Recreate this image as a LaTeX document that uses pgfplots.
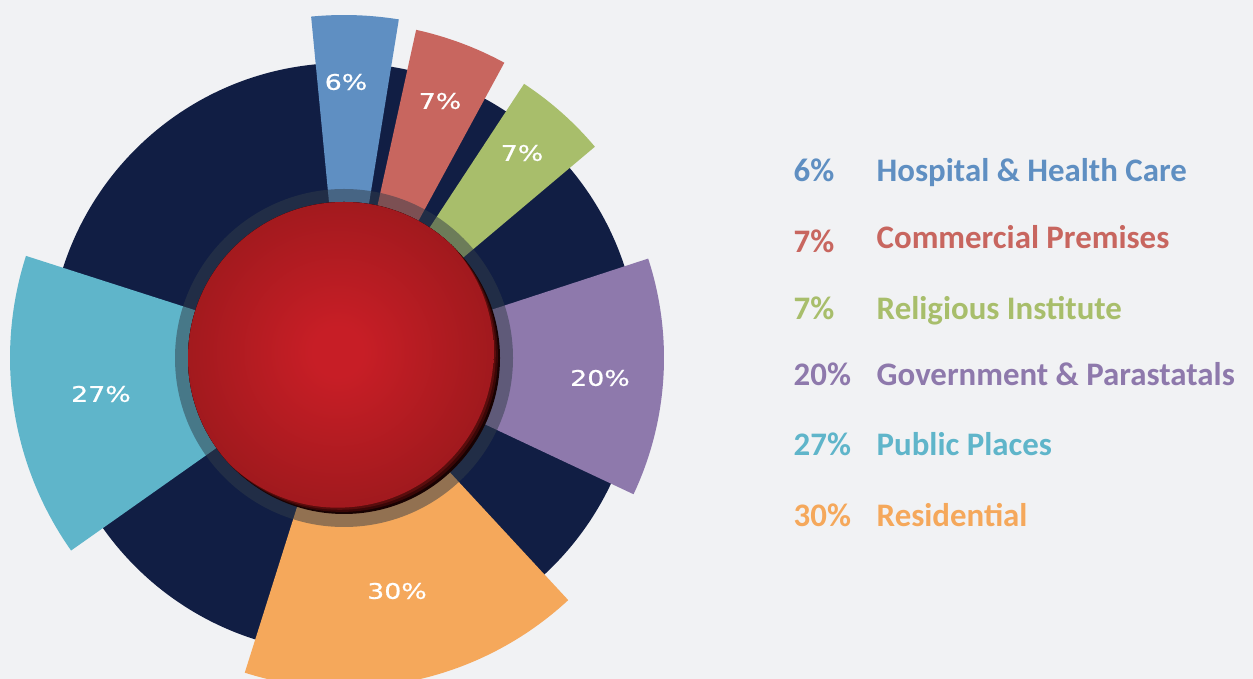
\documentclass[border=0pt]{standalone}
\usepackage{pgfplots}
\pgfplotsset{compat=1.18}
\usepackage{pgfplotstable}
\usepackage{fontspec}
\setmainfont{Carlito}
\newfontfamily\pctfont[FakeStretch=1.25, FakeBold=0.7]{DejaVu Sans}

\definecolor{bgc}{HTML}{F1F2F4}
\definecolor{navy}{HTML}{111E44}
\definecolor{cblue}{HTML}{5F8FC2}
\definecolor{cred}{HTML}{C8665F}
\definecolor{cgreen}{HTML}{A8BE6B}
\definecolor{cpurple}{HTML}{8E79AC}
\definecolor{ccyan}{HTML}{5FB5CA}
\definecolor{corange}{HTML}{F5A85B}
\definecolor{ringc}{HTML}{313C48}
\definecolor{balldark}{HTML}{180202}
\definecolor{ballmid}{HTML}{3A0707}
\definecolor{ballmid2}{HTML}{5A0D0D}
\definecolor{ballc}{HTML}{C71E26}
\definecolor{balle}{HTML}{761414}

% 1 px of the reference = 0.1mm = 0.284528pt
\pgfdeclareradialshading{redball}{\pgfpoint{0bp}{0bp}}{%
  color(0bp)=(ballc); color(4bp)=(ballc); color(48bp)=(balle); color(50bp)=(balle)}

\pgfdeclareplotmark{sector}{%
  \pgfpathmoveto{\pgfpointorigin}%
  \pgfpathlineto{\pgfpointpolar{\aone}{\rad pt}}%
  \pgfpatharc{\aone}{\atwo}{\rad pt}%
  \pgfpathclose
  \pgfusepath{fill}}

\pgfdeclareplotmark{ring}{%
  \pgfscope
  \pgfsetfillcolor{ringc}\pgfsetfillopacity{0.5}%
  \pgfpathcircle{\pgfpointorigin}{\rad pt}%
  \pgfusepath{fill}%
  \endpgfscope}

\pgfdeclareplotmark{ball}{%
  \pgfscope
  \pgfpathcircle{\pgfpointorigin}{\rad pt}%
  \pgfsetfillcolor{balldark}\pgfusepath{fill,clip}%
  \pgfpathcircle{\pgfpoint{-0.6pt}{0.6pt}}{\rad pt}%
  \pgfsetfillcolor{ballmid}\pgfusepath{fill}%
  \pgfpathcircle{\pgfpoint{-1.2pt}{1.2pt}}{\rad pt}%
  \pgfsetfillcolor{ballmid2}\pgfusepath{fill}%
  \pgfpathcircle{\pgfpoint{-1.8pt}{1.8pt}}{\rad pt}%
  \pgfshadepath{redball}{0}\pgfusepath{}%
  \endpgfscope}

% sectors: centre (px), start/end angle (deg), outer radius (px)
\pgfplotstableread{
x   y   a1     a2    r   col
344 358 0      360   295 navy
344 358 80.8   95.5  343 cblue
344 358 61.5   77.6  336 cred
344 358 40.1   56.7  328 cgreen
344 358 -25.2  18.1  320 cpurple
344 358 -107.5 -47.2 330 corange
344 358 162.2  215.2 334 ccyan
}\sectors

\pgfplotstableread{
x   y   r
344 358 169
}\ringtab

\pgfplotstableread{
x   y   r
344 358 156
}\balltab

\pgfplotstableread{
x   y   lab
346 82  6\%
440 101 7\%
522 153 7\%
600 378 20\%
101 394 27\%
397 591 30\%
}\labels

\pgfplotstableread[col sep=comma]{
x,y,txt
793,182,\textcolor{cblue}{6\%}
876,182,\textcolor{cblue}{Hospital \& Health Care}
793,253,\textcolor{cred}{7\%}
876,248.5,\textcolor{cred}{Commercial Premises}
793,320,\textcolor{cgreen}{7\%}
876,320,\textcolor{cgreen}{Religious Institute}
793,386,\textcolor{cpurple}{20\%}
876,386,\textcolor{cpurple}{Government \& Parastatals}
793,456,\textcolor{ccyan}{27\%}
876,456,\textcolor{ccyan}{Public Places}
793,526,\textcolor{corange}{30\%}
876,526,\textcolor{corange}{Residential}
}\legtab

\begin{document}
\begin{tikzpicture}
\begin{axis}[
  scale only axis, width=125.3mm, height=67.9mm,
  at={(0,0)}, anchor=south west,
  xmin=0, xmax=1253, ymin=0, ymax=679, y dir=reverse,
  hide axis, clip=false,
]
\addplot[fill=bgc, draw=none] coordinates {(0,0) (1253,0) (1253,679) (0,679)} -- cycle;

\addplot[scatter, only marks, mark=sector, point meta=explicit symbolic,
  scatter/classes={navy={fill=navy}, cblue={fill=cblue}, cred={fill=cred},
    cgreen={fill=cgreen}, cpurple={fill=cpurple}, corange={fill=corange},
    ccyan={fill=ccyan}},
  visualization depends on={\thisrow{a1} \as \aone},
  visualization depends on={\thisrow{a2} \as \atwo},
  visualization depends on={\thisrow{r}*0.284528 \as \rad},
] table[x=x, y=y, meta=col] {\sectors};

\addplot[only marks, mark=ring,
  visualization depends on={\thisrow{r}*0.284528 \as \rad},
] table[x=x, y=y] {\ringtab};

\addplot[only marks, mark=ball,
  visualization depends on={\thisrow{r}*0.284528 \as \rad},
] table[x=x, y=y] {\balltab};

% white percentages on the sectors
\addplot[only marks, mark=none, nodes near coords, point meta=explicit symbolic,
  every node near coord/.append style={anchor=center, text=white,
    font=\pctfont\fontsize{6.1}{7}\selectfont}]
  table[x=x, y=y, meta=lab] {\labels};

% legend at the right
\addplot[only marks, mark=none, nodes near coords, point meta=explicit symbolic,
  every node near coord/.append style={anchor=base west, inner sep=0pt,
    font=\bfseries\fontsize{9.35}{11}\selectfont}]
  table[x=x, y=y, meta=txt] {\legtab};
\end{axis}
\pgfresetboundingbox
\path[use as bounding box] (0,0) rectangle (125.3mm,67.9mm);
\end{tikzpicture}
\end{document}
